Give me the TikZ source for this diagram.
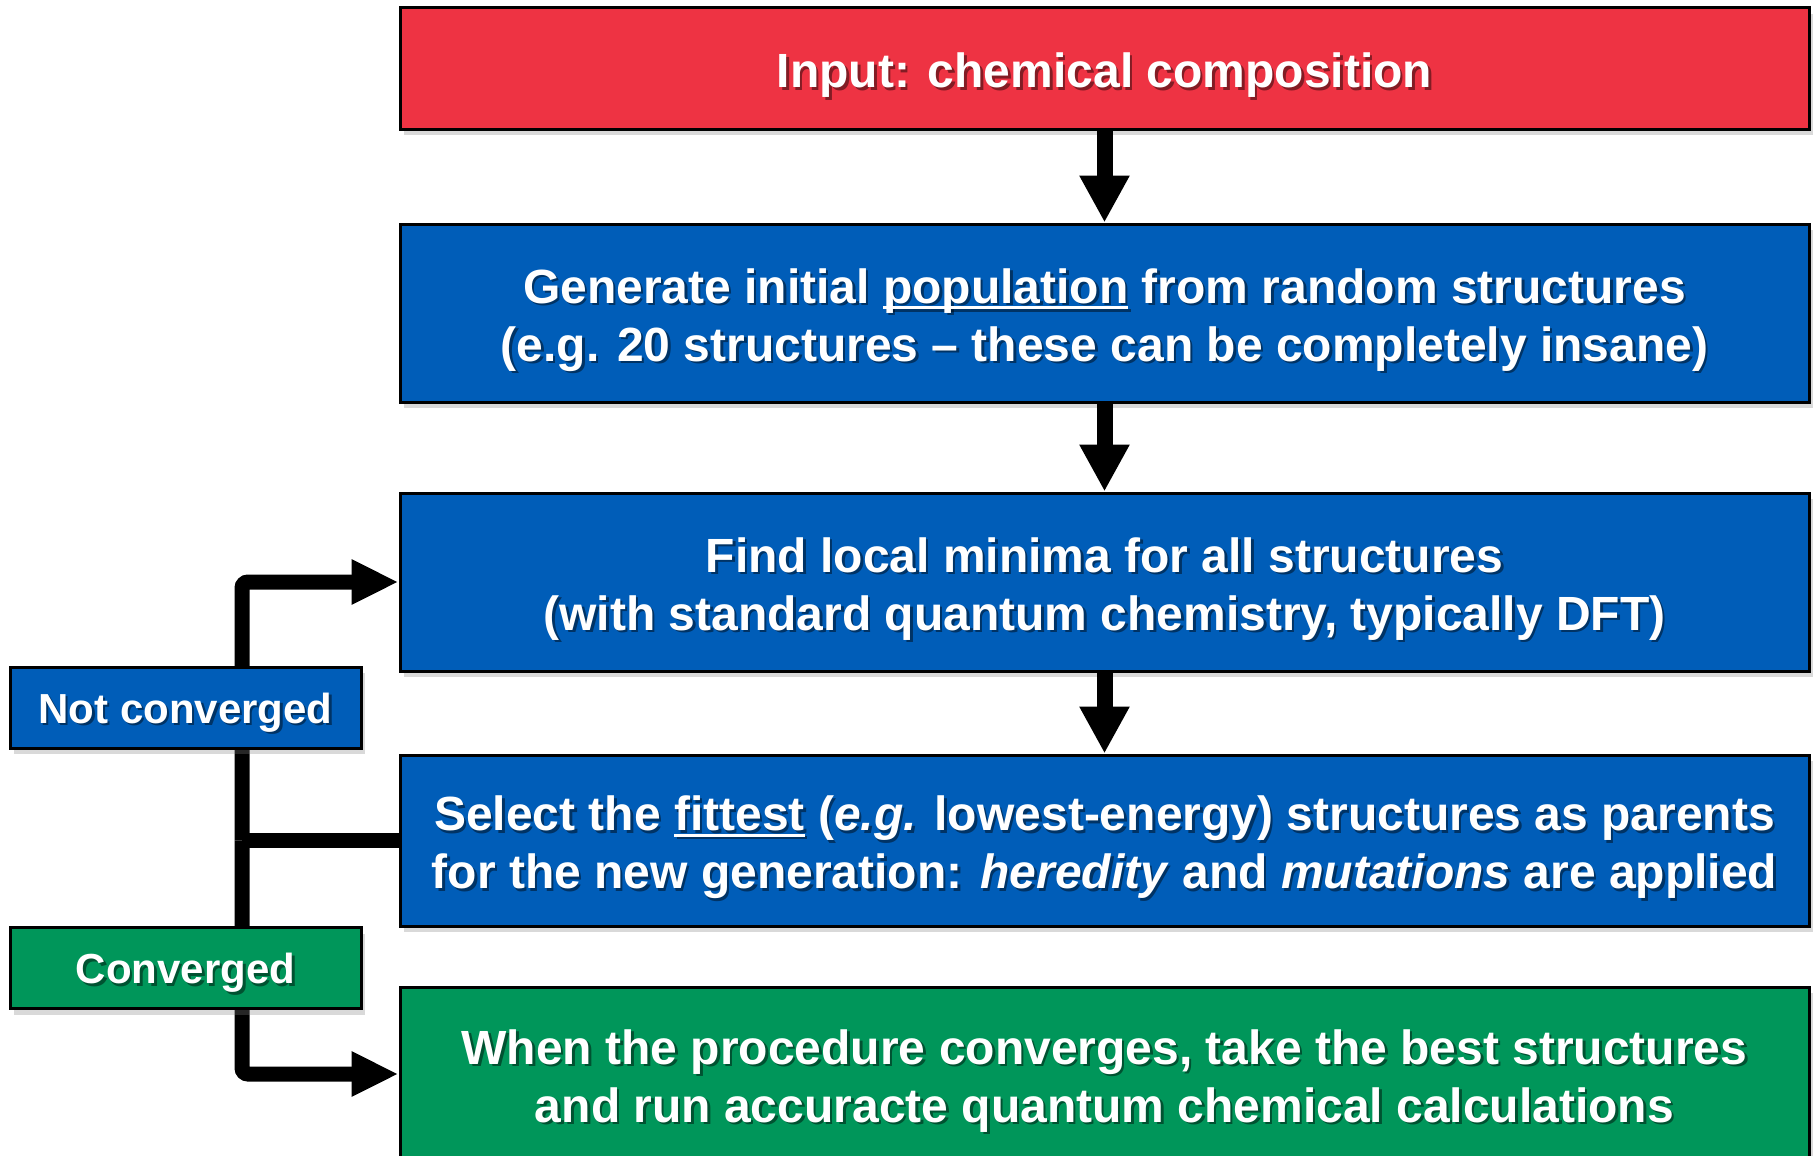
\documentclass[tikz,border=0pt]{standalone}
\usepackage{fontspec}
\setmainfont{Liberation Sans}
\usetikzlibrary{arrows.meta,shadows}
\definecolor{boxred}{RGB}{238,51,67}
\definecolor{boxblue}{RGB}{0,93,184}
\definecolor{boxgreen}{RGB}{0,150,90}
\newcommand\myul[1]{\leavevmode\setbox0\hbox{#1}\rlap{\rule[-6pt]{\wd0}{3.2pt}}\box0\relax}
\begin{document}
\begin{tikzpicture}[x=1pt,y=-1pt,
  bigfont/.style={font=\bfseries\fontsize{48}{58}\selectfont, align=center},
  smallfont/.style={font=\bfseries\fontsize{42}{50}\selectfont, align=center},
  btxt/.style={label={[bigfont, text=black, text opacity=0.45, xshift=2.5pt, yshift=-9.5pt]center:{#1}},
               label={[bigfont, text=white, yshift=-7pt]center:{#1}}},
  stxt/.style={label={[smallfont, text=black, text opacity=0.45, xshift=2.5pt, yshift=-7.5pt]center:{#1}},
               label={[smallfont, text=white, yshift=-5pt]center:{#1}}},
  box/.style={draw=black, line width=3pt, inner sep=0pt, minimum width=1409pt,
    drop shadow={shadow xshift=4pt,shadow yshift=-6pt,opacity=0.3}},
  lab/.style={draw=black, line width=3pt, inner sep=0pt,
    minimum width=351pt, minimum height=81pt,
    drop shadow={shadow xshift=4pt,shadow yshift=-6pt,opacity=0.3}},
  vconn/.style={draw=black, line width=16pt, -{Triangle[length=47pt,width=47pt]}},
  hconn/.style={draw=black, line width=15pt, rounded corners=6pt},
  harr/.style={hconn, -{Triangle[length=47pt,width=42pt]}}
]
\useasboundingbox (0,0) rectangle (1816,1156);

\node[box, fill=boxred, minimum height=121pt,
  btxt={Input: chemical composition}] (inp) at (1104.5,68.5) {};
\node[box, fill=boxblue, minimum height=178pt,
  btxt={Generate initial \myul{population} from random structures\\(e.g. 20 structures – these can be completely insane)}] (gen) at (1104.5,313) {};
\node[box, fill=boxblue, minimum height=178pt,
  btxt={Find local minima for all structures\\(with standard quantum chemistry, typically DFT)}] (fnd) at (1104.5,582) {};
\node[box, fill=boxblue, minimum height=171pt,
  btxt={Select the \myul{fittest} (\textit{e.g.} lowest-energy) structures as parents\\for the new generation: \textit{heredity} and \textit{mutations} are applied}] (sel) at (1104.5,840.5) {};
\node[box, fill=boxgreen, minimum height=174pt,
  btxt={When the procedure converges, take the best structures\\and run accuracte quantum chemical calculations}] (fin) at (1104.5,1074) {};

\draw[vconn] (inp.south) -- (gen.north);
\draw[vconn] (gen.south) -- (fnd.north);
\draw[vconn] (fnd.south) -- (sel.north);

\coordinate (jn) at (242,840.5);
\draw[hconn] (sel.west) -- (jn);
\draw[harr] (jn) |- (fnd.west);
\draw[harr] (jn) |- (fin.west);

\node[lab, fill=boxblue, stxt={Not converged}] (nc) at (185.5,707.5) {};
\node[lab, fill=boxgreen, stxt={Converged}] (cv) at (185.5,968) {};
\end{tikzpicture}
\end{document}
